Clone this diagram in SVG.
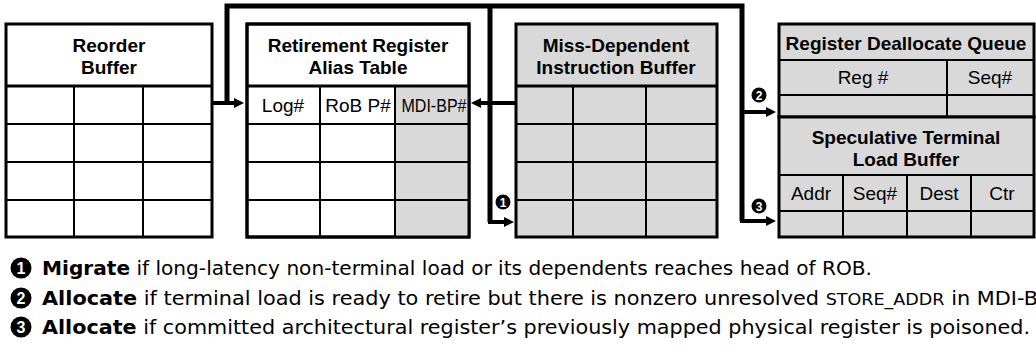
<svg xmlns="http://www.w3.org/2000/svg" width="1036" height="359" viewBox="0 0 1036 359">
  <defs>
    <style>
      .frame { stroke: #000; stroke-width: 3; }
      .white { fill: #fff; }
      .gray { fill: #d9d9d9; }
      .hdr { stroke: #000; stroke-width: 3; fill: none; }
      .grid { stroke: #000; stroke-width: 2; fill: none; }
      .title { font-family: "Liberation Sans", Arial, sans-serif; font-weight: bold; font-size: 19px; text-anchor: middle; fill: #000; }
      .cell { font-family: "Liberation Sans", Arial, sans-serif; font-size: 19px; text-anchor: middle; fill: #000; }
      .bus { stroke: #000; stroke-width: 5; fill: none; stroke-linejoin: miter; }
      .arr { stroke: #000; stroke-width: 4; fill: none; marker-end: url(#head); }
      .dot { fill: #000; }
      .num { font-family: "Liberation Sans", Arial, sans-serif; font-weight: bold; fill: #fff; text-anchor: middle; }
      .legend { font-family: "DejaVu Sans", Verdana, sans-serif; font-size: 19px; fill: #000; }
      .b { font-weight: bold; }
      .sc { font-size: 16px; }
    </style>
    <marker id="head" viewBox="0 0 10 10" refX="3" refY="5" markerWidth="10" markerHeight="10" markerUnits="userSpaceOnUse" orient="auto">
      <path d="M0,0 L10,5 L0,10 z" fill="#000"/>
    </marker>
  </defs>

  <!-- Reorder Buffer -->
  <g id="reorder-buffer">
    <rect class="frame white" x="6" y="24" width="206" height="213"/>
    <path class="grid" d="M6,124 H212 M6,162 H212 M6,200 H212 M74,86 V237 M143,86 V237"/>
    <path class="hdr" d="M6,86 H212"/>
    <text class="title" x="109" y="52">Reorder</text>
    <text class="title" x="109" y="74">Buffer</text>
  </g>

  <!-- Retirement Register Alias Table -->
  <g id="retirement-rat">
    <rect class="frame white" x="247" y="24" width="222" height="213"/>
    <rect class="gray" x="395" y="86" width="74" height="151"/>
    <path class="grid" d="M247,124 H469 M247,162 H469 M247,200 H469 M320,86 V237 M395,86 V237"/>
    <path class="hdr" d="M247,86 H469"/>
    <rect class="frame" fill="none" x="247" y="24" width="222" height="213"/>
    <text class="title" x="358" y="52">Retirement Register</text>
    <text class="title" x="358" y="74">Alias Table</text>
    <text class="cell" x="283" y="112">Log#</text>
    <text class="cell" x="358" y="112">RoB P#</text>
    <text class="cell" x="434" y="112" textLength="65" lengthAdjust="spacingAndGlyphs">MDI-BP#</text>
  </g>

  <!-- Miss-Dependent Instruction Buffer -->
  <g id="mdi-buffer">
    <rect class="frame gray" x="516" y="24" width="201" height="213"/>
    <path class="grid" d="M516,124 H717 M516,162 H717 M516,200 H717 M573,86 V237 M646,86 V237"/>
    <path class="hdr" d="M516,86 H717"/>
    <text class="title" x="616" y="52">Miss-Dependent</text>
    <text class="title" x="616" y="74">Instruction Buffer</text>
  </g>

  <!-- Register Deallocate Queue -->
  <g id="dealloc-queue">
    <rect class="frame gray" x="779" y="24" width="255" height="93"/>
    <path class="grid" d="M779,60 H1034 M779,95 H1034 M947,60 V117"/>
    <text class="title" x="906" y="50">Register Deallocate Queue</text>
    <text class="cell" x="863" y="84">Reg #</text>
    <text class="cell" x="990" y="84">Seq#</text>
  </g>

  <!-- Speculative Terminal Load Buffer -->
  <g id="terminal-load-buffer">
    <rect class="frame gray" x="779" y="117" width="255" height="120"/>
    <path class="grid" d="M779,175 H1034 M779,211 H1034 M843,175 V237 M907,175 V237 M971,175 V237"/>
    <text class="title" x="906" y="144">Speculative Terminal</text>
    <text class="title" x="906" y="166">Load Buffer</text>
    <text class="cell" x="811" y="200">Addr</text>
    <text class="cell" x="875" y="200">Seq#</text>
    <text class="cell" x="939" y="200">Dest</text>
    <text class="cell" x="1002" y="200">Ctr</text>
  </g>

  <!-- Connectors -->
  <g id="connectors">
    <path class="bus" d="M227,105 V6 H742 V221"/>
    <path class="bus" d="M490,6 V222"/>
    <path class="arr" d="M212,103 H237"/>
    <path class="arr" d="M516,103 H478"/>
    <path class="arr" d="M488,222 H507"/>
    <path class="arr" d="M740,112 H769"/>
    <path class="arr" d="M740,221 H769"/>
    <circle class="dot" cx="503" cy="202" r="7.5"/>
    <text class="num" x="503" y="206.5" font-size="12">1</text>
    <circle class="dot" cx="759" cy="95" r="7.5"/>
    <text class="num" x="759" y="99.5" font-size="12">2</text>
    <circle class="dot" cx="759" cy="206" r="7.5"/>
    <text class="num" x="759" y="210.5" font-size="12">3</text>
  </g>

  <!-- Legend -->
  <g id="legend">
    <circle class="dot" cx="21" cy="268" r="10.5"/>
    <text class="num" x="21" y="274" font-size="16">1</text>
    <text class="legend" x="42" y="275" textLength="830" lengthAdjust="spacingAndGlyphs"><tspan class="b">Migrate</tspan> if long-latency non-terminal load or its dependents reaches head of ROB.</text>
    <circle class="dot" cx="21" cy="298" r="10.5"/>
    <text class="num" x="21" y="304" font-size="16">2</text>
    <text class="legend" x="42" y="305" textLength="996" lengthAdjust="spacingAndGlyphs"><tspan class="b">Allocate</tspan> if terminal load is ready to retire but there is nonzero unresolved <tspan class="sc">STORE_ADDR</tspan> in MDI-B</text>
    <circle class="dot" cx="21" cy="327" r="10.5"/>
    <text class="num" x="21" y="333" font-size="16">3</text>
    <text class="legend" x="42" y="334" textLength="988" lengthAdjust="spacingAndGlyphs"><tspan class="b">Allocate</tspan> if committed architectural register’s previously mapped physical register is poisoned.</text>
  </g>
</svg>
